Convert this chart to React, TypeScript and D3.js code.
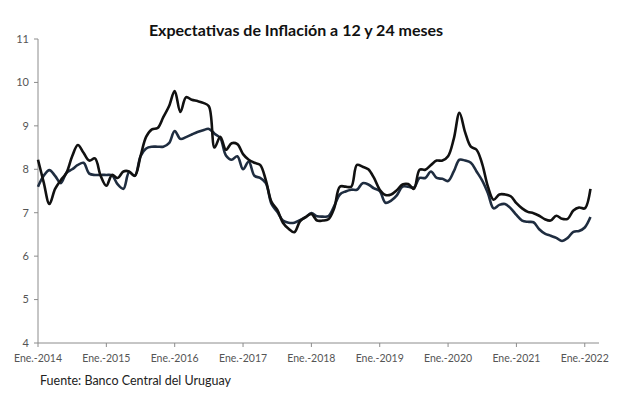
import * as d3 from "d3";

// monthly, Ene.-2014 .. Feb.-2022
const startYear = 2014;
const yearTicks = [2014, 2015, 2016, 2017, 2018, 2019, 2020, 2021, 2022];
const yTicks = [4, 5, 6, 7, 8, 9, 10, 11];

const exp12 = [
  8.22, 7.7, 7.2, 7.55, 7.75, 7.92, 8.3, 8.56, 8.38, 8.2, 8.25, 7.85,
  7.62, 7.87, 7.8, 7.95, 7.95, 7.85, 8.3, 8.75, 8.92, 8.95, 9.2, 9.45,
  9.8, 9.32, 9.66, 9.6, 9.57, 9.53, 9.45, 8.5, 8.75, 8.45, 8.6, 8.58,
  8.35, 8.22, 8.15, 8.1, 7.75, 7.25, 7.07, 6.77, 6.63, 6.55, 6.8, 6.9,
  6.97, 6.82, 6.82, 6.85, 7.1, 7.6, 7.6, 7.6, 8.1, 8.06, 8.0, 7.8,
  7.53, 7.41, 7.42, 7.52, 7.65, 7.66, 7.55, 7.99, 7.99, 8.1, 8.2, 8.2,
  8.3, 8.7, 9.3, 8.85, 8.52, 8.45, 8.12, 7.6, 7.3, 7.42, 7.42, 7.38,
  7.22, 7.1, 7.02, 6.99, 6.93, 6.85, 6.82, 6.93, 6.86, 6.86, 7.05, 7.12,
  7.1, 7.55,
];

const exp24 = [
  7.6, 7.85, 7.98, 7.85, 7.68, 7.92, 8.0, 8.1, 8.15, 7.9, 7.87, 7.87,
  7.87, 7.86, 7.65, 7.55, 7.93, 7.85, 8.3, 8.48, 8.52, 8.52, 8.52, 8.6,
  8.88, 8.7, 8.74, 8.8, 8.86, 8.9, 8.93, 8.82, 8.72, 8.32, 8.22, 8.3,
  8.0, 8.18, 7.85, 7.8, 7.68, 7.2, 7.02, 6.82, 6.77, 6.77, 6.83, 6.9,
  6.99, 6.92, 6.91, 6.92, 7.15, 7.42, 7.49, 7.53, 7.53, 7.68, 7.65, 7.56,
  7.5, 7.23, 7.28, 7.4, 7.6, 7.6, 7.58, 7.8, 7.8, 7.95, 7.8, 7.78,
  7.73, 7.95, 8.22, 8.2, 8.15, 7.95, 7.74, 7.45, 7.1, 7.18, 7.2, 7.1,
  6.95, 6.82, 6.79, 6.78, 6.62, 6.52, 6.47, 6.42, 6.35, 6.42, 6.56, 6.58,
  6.66, 6.9,
];

const W = 617;
const H = 398;
const font = "Lato, 'Open Sans', sans-serif";

export default function App() {
  const x = d3
    .scaleLinear()
    .domain([0, 98.5]) // months since Ene.-2014
    .range([38, 599]);
  const y = d3.scaleLinear().domain([4, 11]).range([343, 39]);

  const line = d3
    .line<number>()
    .x((_, i) => x(i))
    .y((d) => y(d))
    .curve(d3.curveCatmullRom.alpha(0.5));

  return (
    <svg
      width={W}
      height={H}
      style={{ position: "absolute", left: 0, top: 0, background: "#fff" }}
      fontFamily={font}
    >
      <text x={296} y={36} textAnchor="middle" fontSize={16} fontWeight={700} fill="#111">
        Expectativas de Inflación a 12 y 24 meses
      </text>

      {/* Y axis */}
      <line x1={x(0)} x2={x(0)} y1={y(11)} y2={y(4)} stroke="#8c8c8c" strokeWidth={1} />
      {yTicks.map((t) => (
        <g key={t}>
          <line x1={x(0) - 4} x2={x(0)} y1={y(t)} y2={y(t)} stroke="#8c8c8c" />
          <text
            x={29}
            y={y(t)}
            dy="0.35em"
            textAnchor="end"
            fontSize={11}
            fill="#555"
          >
            {t}
          </text>
        </g>
      ))}

      {/* X axis */}
      <line x1={x(0)} x2={x(98.5)} y1={y(4)} y2={y(4)} stroke="#8c8c8c" strokeWidth={1} />
      {yearTicks.map((yr) => {
        const m = (yr - startYear) * 12;
        return (
          <g key={yr}>
            <line x1={x(m)} x2={x(m)} y1={y(4)} y2={y(4) + 4} stroke="#8c8c8c" />
            <text x={x(m)} y={362} textAnchor="middle" fontSize={10.5} fill="#555">
              {`Ene.-${yr}`}
            </text>
          </g>
        );
      })}

      {/* Series */}
      <path d={line(exp24) ?? ""} fill="none" stroke="#1f2d40" strokeWidth={2.6} strokeLinejoin="round" />
      <path d={line(exp12) ?? ""} fill="none" stroke="#111" strokeWidth={2.6} strokeLinejoin="round" />

      <text x={40} y={385} fontSize={12.5} fill="#222">
        Fuente: Banco Central del Uruguay
      </text>
    </svg>
  );
}
